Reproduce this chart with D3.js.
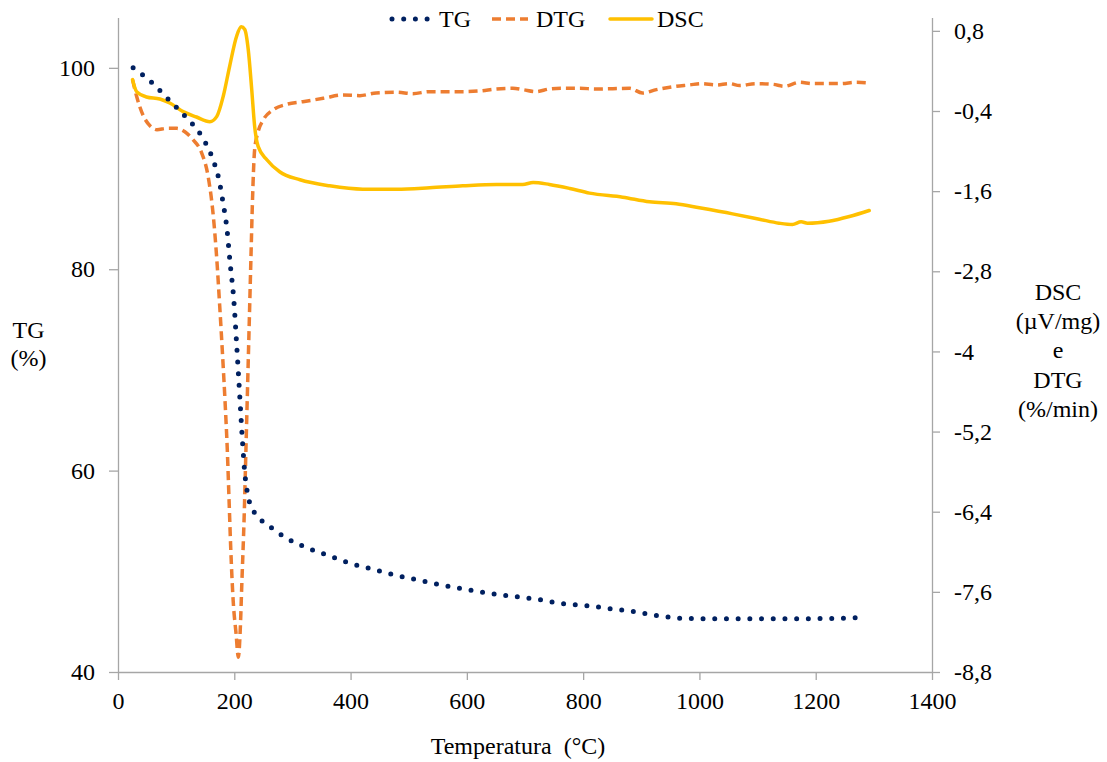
<!DOCTYPE html>
<html>
<head>
<meta charset="utf-8">
<script src="https://cdn.jsdelivr.net/npm/d3@7"></script>
<style>
  html, body { margin: 0; padding: 0; background: #fff; }
  svg text { font-family: "Liberation Serif", "Times New Roman", serif; fill: #000; }
</style>
</head>
<body>
<svg id="chart" width="1107" height="762"></svg>
<script>
// Thermal analysis: mass loss (TG), its derivative (DTG) and heat flow (DSC)

// TG (%) against temperature (°C), left axis
const tgTemp = [26, 59, 88, 117, 144, 162, 174, 181, 187, 193, 199, 204, 209, 214, 218, 222, 226, 235, 250, 267, 284, 322, 360, 399, 439, 479, 519, 560, 600, 641, 682, 723, 763, 805, 845, 886, 927, 966, 1000, 1100, 1200, 1278];
const tgValues = [100, 98.5, 96.8, 95.1, 93.2, 91.1, 88.8, 86.5, 84.2, 80.5, 77.1, 72.6, 67.8, 63.0, 59.8, 58.0, 56.9, 55.8, 54.9, 54.2, 53.5, 52.4, 51.6, 50.8, 50.2, 49.6, 49.1, 48.6, 48.2, 47.8, 47.5, 47.2, 46.8, 46.6, 46.3, 46.0, 45.6, 45.35, 45.3, 45.3, 45.3, 45.4];

// DTG (%/min) against temperature (°C), right axis
const dtgTemp = [25, 32, 44, 55, 67, 84, 101, 115, 129, 144, 155, 164, 170, 175, 180, 184, 188, 191, 194, 198, 203, 207, 210, 213, 217, 220, 223, 226, 229, 231, 235, 241, 250, 267, 290, 318, 353, 387, 416, 444, 479, 507, 536, 593, 622, 651, 679, 696, 719, 742, 765, 794, 822, 880, 902, 926, 960, 983, 1003, 1029, 1052, 1069, 1097, 1126, 1146, 1172, 1195, 1243, 1269, 1292];
const dtgValues = [0.07, -0.18, -0.48, -0.62, -0.68, -0.66, -0.66, -0.71, -0.83, -1.03, -1.38, -1.98, -2.63, -3.33, -4.08, -4.73, -5.48, -6.22, -6.97, -7.72, -8.22, -8.58, -8.22, -7.47, -6.47, -5.48, -4.48, -3.48, -2.48, -1.83, -0.98, -0.71, -0.53, -0.38, -0.30, -0.26, -0.21, -0.16, -0.17, -0.13, -0.12, -0.14, -0.11, -0.11, -0.10, -0.07, -0.06, -0.08, -0.11, -0.07, -0.06, -0.06, -0.07, -0.06, -0.13, -0.08, -0.03, -0.01, 0.01, -0.01, 0.01, -0.02, 0.01, 0.00, -0.03, 0.03, 0.01, 0.01, 0.03, 0.02];

// DSC (µV/mg) against temperature (°C), right axis
const dscTemp = [25, 32, 49, 72, 89, 112, 135, 158, 170, 181, 192, 204, 212, 218, 224, 230, 235, 241, 256, 278, 313, 364, 421, 479, 536, 593, 651, 696, 714, 742, 777, 811, 868, 914, 960, 1000, 1057, 1103, 1137, 1160, 1175, 1186, 1223, 1258, 1292];
const dscValues = [0.07, -0.11, -0.19, -0.22, -0.28, -0.41, -0.49, -0.56, -0.48, -0.18, 0.27, 0.72, 0.86, 0.82, 0.52, -0.08, -0.63, -0.93, -1.13, -1.31, -1.43, -1.52, -1.57, -1.57, -1.55, -1.52, -1.50, -1.50, -1.47, -1.50, -1.56, -1.63, -1.69, -1.76, -1.79, -1.85, -1.94, -2.02, -2.08, -2.10, -2.06, -2.08, -2.05, -1.98, -1.89];

// Tick values
const xTicks = [0, 200, 400, 600, 800, 1000, 1200, 1400];
const leftTicks = [40, 60, 80, 100];
const rightTicks = [0.8, -0.4, -1.6, -2.8, -4, -5.2, -6.4, -7.6, -8.8];

const colors = { TG: "#002060", DTG: "#ED7D31", DSC: "#FFC000" };

const svg = d3.select("#chart");
const plot = { left: 118, right: 932, top: 17.5, bottom: 672 };
const fontSize = 24;
const axisColor = "#A6A6A6";

const x = d3.scaleLinear().domain([0, 1400]).range([plot.left, plot.right]);
const yLeft = d3.scaleLinear().domain([40, 105]).range([plot.bottom, plot.top]);
const yRight = d3.scaleLinear().domain([-8.8, 1.0]).range([plot.bottom, plot.top]);

const commaFmt = v => String(v).replace(".", ",");

function styleAxis(g) {
  g.select(".domain").attr("stroke", axisColor).attr("stroke-width", 1.3);
  g.selectAll(".tick line").attr("stroke", axisColor).attr("stroke-width", 1.3);
  g.selectAll(".tick text").attr("font-size", fontSize).attr("font-family", "Liberation Serif").attr("fill", "#000");
}

// Axes
svg.append("g")
  .attr("transform", `translate(0,${plot.bottom})`)
  .call(d3.axisBottom(x).tickValues(xTicks).tickSize(8).tickPadding(12).tickSizeOuter(0).tickFormat(d3.format("d")))
  .call(styleAxis);

svg.append("g")
  .attr("transform", `translate(${plot.left},0)`)
  .call(d3.axisLeft(yLeft).tickValues(leftTicks).tickSize(9).tickPadding(14).tickSizeOuter(0).tickFormat(d3.format("d")))
  .call(styleAxis);

svg.append("g")
  .attr("transform", `translate(${plot.right},0)`)
  .call(d3.axisRight(yRight).tickValues(rightTicks).tickSize(8).tickPadding(14).tickSizeOuter(0).tickFormat(commaFmt))
  .call(styleAxis);

// Series
const series = svg.append("g");

const lineRight = d3.line().x(d => x(d[0])).y(d => yRight(d[1])).curve(d3.curveMonotoneX);
const lineLeft = d3.line().x(d => x(d[0])).y(d => yLeft(d[1])).curve(d3.curveMonotoneX);

const dtgData = d3.zip(dtgTemp, dtgValues);
const dscData = d3.zip(dscTemp, dscValues);
const tgData = d3.zip(tgTemp, tgValues);

const styles = {
  TG: { width: 5, dash: "0 11.7", cap: "round" },
  DTG: { width: 3.5, dash: "9 5", cap: "butt" },
  DSC: { width: 3.5, dash: null, cap: "round" }
};

function applyStyle(sel, name) {
  const s = styles[name];
  sel.attr("fill", "none")
    .attr("stroke", colors[name])
    .attr("stroke-width", s.width)
    .attr("stroke-linecap", s.cap)
    .attr("stroke-linejoin", "round");
  if (s.dash) sel.attr("stroke-dasharray", s.dash);
}

series.append("path").datum(dtgData).attr("d", lineRight).call(applyStyle, "DTG");
series.append("path").datum(dscData).attr("d", lineRight).call(applyStyle, "DSC");
series.append("path").datum(tgData).attr("d", lineLeft).call(applyStyle, "TG");

// Legend
const legendItems = [
  { name: "TG", x0: 392, x1: 432, tx: 439 },
  { name: "DTG", x0: 492, x1: 528, tx: 536 },
  { name: "DSC", x0: 610, x1: 652, tx: 657 }
];
const legend = svg.append("g");
legendItems.forEach(it => {
  legend.append("line")
    .attr("x1", it.x0).attr("x2", it.x1).attr("y1", 19).attr("y2", 19)
    .call(applyStyle, it.name);
  legend.append("text")
    .attr("x", it.tx).attr("y", 27)
    .attr("font-size", fontSize)
    .text(it.name);
});

// Axis titles
svg.append("text")
  .attr("x", 518).attr("y", 754)
  .attr("text-anchor", "middle")
  .attr("font-size", fontSize)
  .style("white-space", "pre")
  .text("Temperatura\u00a0 (°C)");

const leftTitle = ["TG", "(%)"];
leftTitle.forEach((t, i) => {
  svg.append("text")
    .attr("x", 28.5).attr("y", 338 + i * 28)
    .attr("text-anchor", "middle")
    .attr("font-size", fontSize)
    .text(t);
});

const rightTitle = ["DSC", "(µV/mg)", "e", "DTG", "(%/min)"];
rightTitle.forEach((t, i) => {
  svg.append("text")
    .attr("x", 1058).attr("y", 300 + i * 29.2)
    .attr("text-anchor", "middle")
    .attr("font-size", fontSize)
    .text(t);
});
</script>
</body>
</html>
